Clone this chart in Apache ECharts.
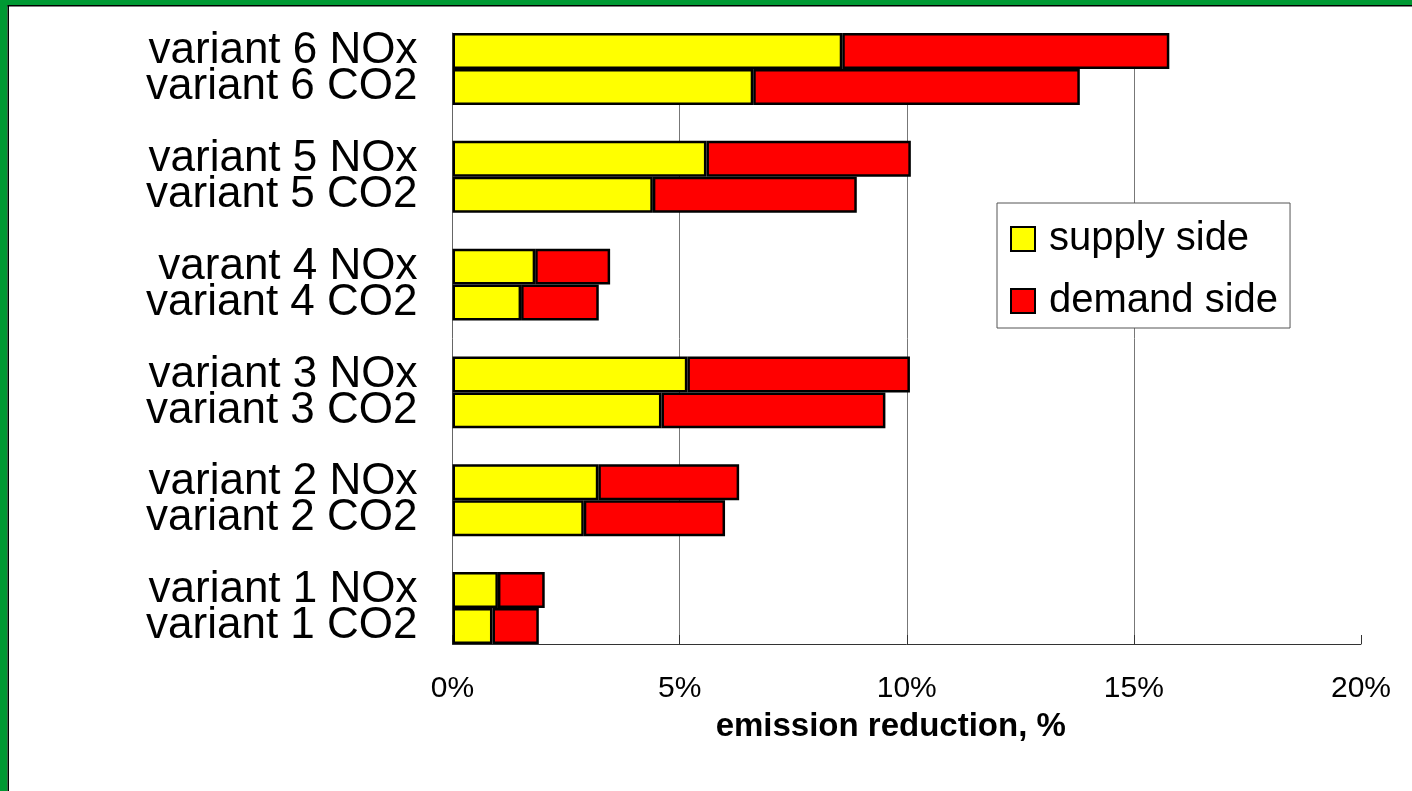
<!DOCTYPE html>
<html>
<head>
<meta charset="utf-8">
<script src="https://cdn.jsdelivr.net/npm/echarts@6/dist/echarts.min.js"></script>
<style>
  html, body { margin: 0; padding: 0; background: #ffffff; }
  #chart { width: 1412px; height: 791px; }
</style>
</head>
<body>
<div id="chart"></div>
<script>
// Data (variants 1..6, bottom to top)
const labelsNOx = ['variant 1 NOx', 'variant 2 NOx', 'variant 3 NOx', 'varant 4 NOx', 'variant 5 NOx', 'variant 6 NOx'];
const labelsCO2 = ['variant 1 CO2', 'variant 2 CO2', 'variant 3 CO2', 'variant 4 CO2', 'variant 5 CO2', 'variant 6 CO2'];
const supplyNOx = [1.00, 3.21, 5.17, 1.82, 5.59, 8.58];
const demandNOx = [1.03, 3.10, 4.90, 1.65, 4.50, 7.20];
const supplyCO2 = [0.88, 2.89, 4.60, 1.51, 4.41, 6.62];
const demandCO2 = [1.02, 3.11, 4.93, 1.71, 4.49, 7.19];
const seriesNames = ['supply side', 'demand side'];
const xTicks = [0, 5, 10, 15, 20];

// Build category slots with empty gap rows between variant groups
const categories = [];
const supplyData = [];
const demandData = [];
for (let i = 0; i < labelsNOx.length; i++) {
  categories.push(labelsCO2[i]); supplyData.push(supplyCO2[i]); demandData.push(demandCO2[i]);
  categories.push(labelsNOx[i]); supplyData.push(supplyNOx[i]); demandData.push(demandNOx[i]);
  if (i < labelsNOx.length - 1) {
    categories.push(' '.repeat(i + 1)); supplyData.push('-'); demandData.push('-');
  }
}

const FONT = '"Liberation Sans", Arial, sans-serif';
const chart = echarts.init(document.getElementById('chart'), null, { renderer: 'canvas' });

chart.setOption({
  backgroundColor: '#ffffff',
  animation: false,
  graphic: [
    { type: 'rect', left: 0, top: 0, shape: { width: 1412, height: 5 }, style: { fill: '#009933' }, z: 100 },
    { type: 'rect', left: 0, top: 0, shape: { width: 7.5, height: 791 }, style: { fill: '#009933' }, z: 100 },
    { type: 'rect', left: 7.5, top: 5, shape: { width: 1405, height: 1.5 }, style: { fill: '#000000' }, z: 100 },
    { type: 'rect', left: 7.5, top: 5, shape: { width: 1.5, height: 786 }, style: { fill: '#000000' }, z: 100 }
  ],
  grid: { left: 452.5, right: 51, top: 33, bottom: 147, containLabel: false },
  legend: {
    orient: 'vertical',
    left: 997,
    top: 203,
    data: seriesNames,
    backgroundColor: '#ffffff',
    borderColor: '#555555',
    borderWidth: 1,
    padding: [16, 12, 7, 13],
    itemWidth: 24,
    itemHeight: 24,
    itemGap: 22,
    icon: 'rect',
    selectedMode: false,
    textStyle: { fontFamily: FONT, fontSize: 40, color: '#000000', lineHeight: 40, padding: [0, 0, 0, 9] }
  },
  xAxis: {
    type: 'value',
    min: xTicks[0],
    max: xTicks[xTicks.length - 1],
    interval: 5,
    axisLine: { show: true, lineStyle: { color: '#333333', width: 1 } },
    axisTick: { show: true, inside: true, length: 9, lineStyle: { color: '#333333' } },
    splitLine: { show: true, showMinLine: false, showMaxLine: false, lineStyle: { color: '#777777', width: 1 } },
    axisLabel: { formatter: '{value}%', fontFamily: FONT, fontSize: 30, color: '#000000', margin: 30 },
    name: 'emission reduction, %',
    nameLocation: 'middle',
    nameGap: 66,
    nameTextStyle: { fontFamily: FONT, fontSize: 33, fontWeight: 'bold', color: '#000000', padding: [0, 32, 0, 0] }
  },
  yAxis: {
    type: 'category',
    data: categories,
    axisLine: { show: true, lineStyle: { color: '#666666', width: 1 } },
    axisTick: { show: false },
    splitLine: { show: false },
    axisLabel: { fontFamily: FONT, fontSize: 44, color: '#000000', margin: 35, interval: 0 }
  },
  series: [
    {
      name: seriesNames[0], type: 'bar', stack: 'total', data: supplyData,
      barCategoryGap: '0%',
      itemStyle: { color: '#ffff00', borderColor: '#000000', borderWidth: 2.5 }
    },
    {
      name: seriesNames[1], type: 'bar', stack: 'total', data: demandData,
      barCategoryGap: '0%',
      itemStyle: { color: '#ff0000', borderColor: '#000000', borderWidth: 2.5 }
    }
  ]
});
</script>
</body>
</html>
